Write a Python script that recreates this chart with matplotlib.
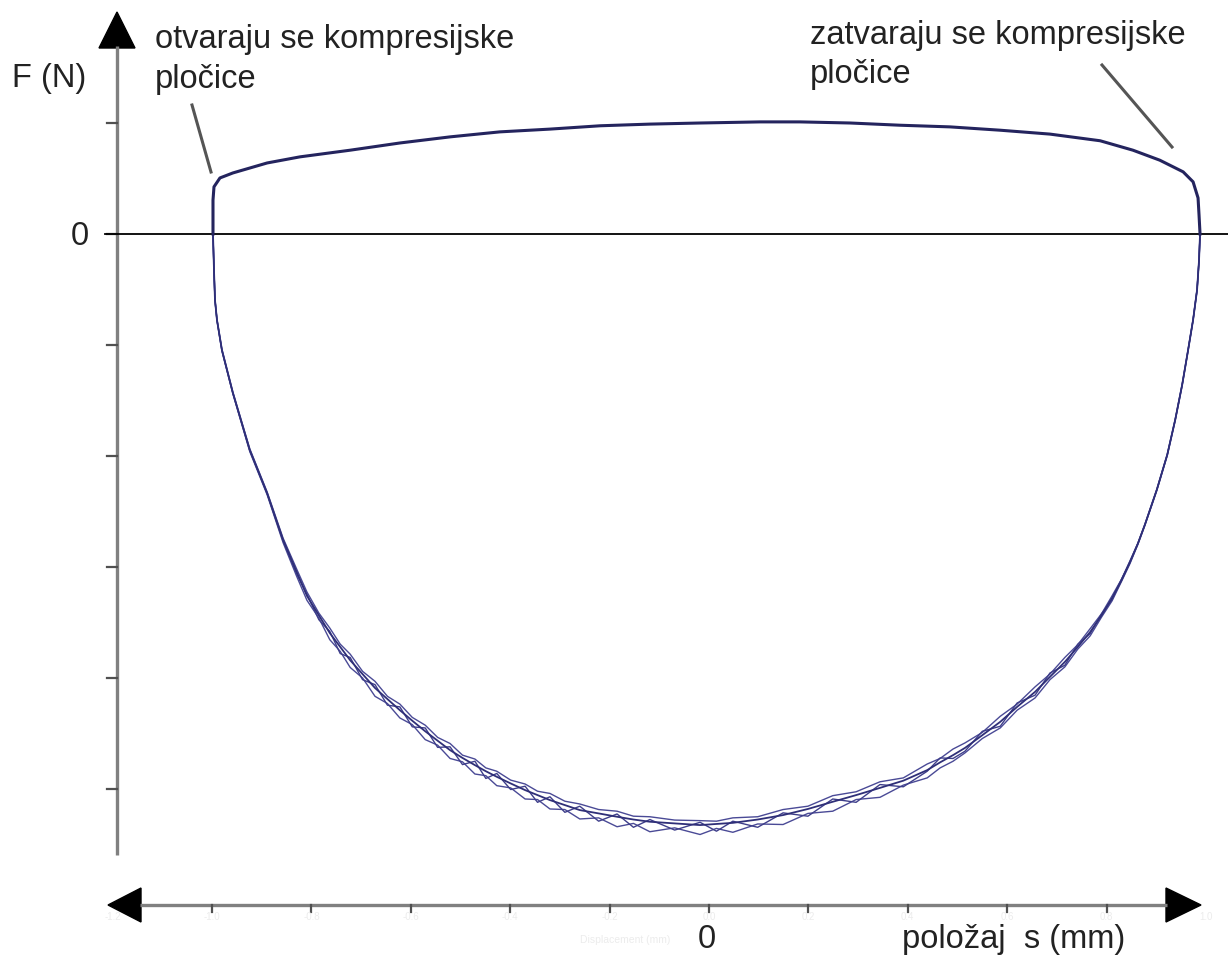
import numpy as np
import matplotlib.pyplot as plt
from matplotlib.patches import Polygon

plt.rcParams['font.family'] = ['Liberation Sans', 'DejaVu Sans']

# upper branch (compression plates open -> close), s in mm, F in N
up_x = [-0.998, -0.998, -0.996, -0.984, -0.958, -0.889, -0.823, -0.722, -0.622, -0.521,
        -0.421, -0.320, -0.219, -0.119, -0.018, 0.103, 0.183, 0.284, 0.384, 0.485,
        0.586, 0.686, 0.787, 0.853, 0.907, 0.954, 0.974, 0.984, 0.986, 0.988]
up_f = [0, 61, 85, 101, 110, 128, 139, 151, 164, 175,
        184, 189, 195, 198, 200, 202, 202, 200, 196, 193,
        187, 180, 168, 151, 133, 112, 94, 65, 34, 0]

# lower branch, several strokes
low_x = [-0.998, -0.996, -0.994, -0.990, -0.980, -0.958, -0.924, -0.889, -0.857, -0.830,
         -0.809, -0.785, -0.763, -0.742, -0.722, -0.697, -0.672, -0.647, -0.622, -0.597,
         -0.571, -0.546, -0.521, -0.496, -0.471, -0.449, -0.427, -0.399, -0.370, -0.345,
         -0.320, -0.290, -0.260, -0.222, -0.185, -0.152, -0.119, -0.069, -0.018, 0.015,
         0.048, 0.098, 0.149, 0.199, 0.249, 0.296, 0.344, 0.391, 0.439, 0.465,
         0.491, 0.515, 0.550, 0.586, 0.620, 0.656, 0.686, 0.716, 0.742, 0.767,
         0.790, 0.811, 0.830, 0.847, 0.863, 0.877, 0.901, 0.922, 0.938, 0.952,
         0.964, 0.974, 0.982, 0.986, 0.988]
low_f1 = [0, -65, -119, -155, -209, -286, -389, -467, -551, -608,
          -652, -687, -719, -744, -768, -793, -818, -838, -858, -877,
          -896, -913, -930, -944, -957, -968, -978, -990, -1002, -1011,
          -1020, -1029, -1038, -1044, -1050, -1055, -1059, -1062, -1065, -1063,
          -1061, -1055, -1047, -1036, -1023, -1011, -998, -985, -966, -952,
          -939, -926, -903, -879, -852, -825, -798, -771, -744, -717,
          -687, -656, -624, -591, -558, -524, -461, -398, -335, -272,
          -209, -155, -101, -47, 0]
low_f2 = [0, -65, -120, -156, -211, -288, -392, -470, -556, -616,
          -660, -692, -731, -752, -781, -800, -833, -846, -872, -884,
          -911, -921, -945, -951, -973, -976, -994, -998, -1018, -1019,
          -1036, -1037, -1054, -1052, -1068, -1062, -1077, -1070, -1082, -1071,
          -1078, -1063, -1064, -1044, -1040, -1019, -1015, -993, -980, -962,
          -950, -935, -909, -890, -858, -836, -803, -780, -748, -724,
          -690, -661, -626, -594, -559, -525, -462, -399, -336, -273,
          -210, -155, -101, -47, 0]
low_f3 = [0, -64, -118, -154, -208, -285, -387, -465, -548, -603,
          -645, -683, -710, -739, -757, -788, -806, -833, -847, -871,
          -885, -907, -918, -939, -946, -962, -968, -984, -991, -1004,
          -1008, -1022, -1027, -1037, -1040, -1049, -1050, -1056, -1057, -1058,
          -1052, -1050, -1037, -1031, -1012, -1005, -987, -980, -955, -945,
          -928, -917, -898, -869, -847, -816, -793, -763, -740, -711,
          -684, -652, -622, -589, -557, -523, -460, -397, -334, -271,
          -208, -154, -100, -47, 0]
low_f4 = [0, -66, -119, -155, -210, -287, -390, -468, -553, -612,
          -649, -695, -716, -756, -763, -803, -812, -849, -852, -888,
          -890, -925, -924, -956, -950, -981, -972, -1001, -995, -1024,
          -1014, -1042, -1031, -1058, -1045, -1069, -1055, -1074, -1060, -1076,
          -1058, -1069, -1043, -1049, -1018, -1024, -992, -996, -968, -944,
          -945, -932, -896, -887, -845, -831, -791, -777, -739, -720,
          -684, -659, -622, -592, -557, -524, -461, -398, -335, -272,
          -209, -155, -101, -47, 0]

x_ticks = [-1.0, -0.8, -0.6, -0.4, -0.2, 0.0, 0.2, 0.4, 0.6, 0.8]
x_tick_labels = ['-1.2', '-1.0', '-0.8', '-0.6', '-0.4', '-0.2', '0.0', '0.2', '0.4', '0.6', '0.8', '1.0']
x_label_pos = [-1.2, -1.0, -0.8, -0.6, -0.4, -0.2, 0.0, 0.2, 0.4, 0.6, 0.8, 1.0]
y_ticks = [200, 0, -200, -400, -600, -800, -1000]


# picture pixels -> data
def dx(p):
    return (p - 709) / 497


def dy(p):
    return (234 - p) * 200 / 111


fig = plt.figure(figsize=(12.28, 9.58), dpi=100)
ax = fig.add_axes([0, 0, 1, 1])
ax.set_xlim(dx(0), dx(1228))
ax.set_ylim(dy(958), dy(0))
ax.axis('off')

# vertical axis with arrow
x_ax = dx(117)
ax.plot([x_ax, x_ax], [dy(46), dy(855)], color='#808080', lw=2.4, solid_capstyle='butt')
ax.add_patch(Polygon([[x_ax, dy(12)], [dx(99), dy(48)], [dx(135), dy(48)]], closed=True,
                     color='black'))
for t in y_ticks:
    ax.plot([dx(107), x_ax], [t, t], color='#505050', lw=1.6)

# horizontal axis with arrows
y_ax = dy(905)
ax.plot([dx(140), dx(1167)], [y_ax, y_ax], color='#808080', lw=2.4, solid_capstyle='butt')
ax.add_patch(Polygon([[dx(108), y_ax], [dx(141), dy(888)], [dx(141), dy(922)]], closed=True,
                     color='black'))
ax.add_patch(Polygon([[dx(1201), y_ax], [dx(1166), dy(888)], [dx(1166), dy(922)]], closed=True,
                     color='black'))
for t in x_ticks:
    ax.plot([t, t], [y_ax, dy(912)], color='#505050', lw=1.6)
# faint original tick labels
for pos, lab in zip(x_label_pos, x_tick_labels):
    ax.text(pos, dy(917), lab, ha='center', va='center', fontsize=7, color='#ececec')
ax.text(dx(625), dy(940), 'Displacement (mm)', ha='center', va='center', fontsize=7.5,
        color='#ececec')

# zero line
ax.plot([dx(105), dx(1228)], [0, 0], color='black', lw=1.3)

# the force loop
ax.plot(low_x, low_f2, color='#4a4a96', lw=1.0)
ax.plot(low_x, low_f3, color='#4a4a96', lw=1.0)
ax.plot(low_x, low_f4, color='#3e3e8a', lw=1.0)
ax.plot(low_x, low_f1, color='#2f2f78', lw=1.3)
ax.plot(up_x, up_f, color='#24245e', lw=2.2)

# leader lines
ax.plot([dx(192), dx(211)], [dy(105), dy(172)], color='#555555', lw=2.2)
ax.plot([dx(1102), dx(1172)], [dy(65), dy(147)], color='#555555', lw=2.2)

# texts
fs = 23.5
tc = '#222222'
ax.text(dx(12), dy(87), 'F (N)', ha='left', va='baseline', fontsize=fs, color=tc)
ax.text(dx(89), dy(245), '0', ha='right', va='baseline', fontsize=fs, color=tc)
ax.text(dx(155), dy(48), 'otvaraju se kompresijske', ha='left', va='baseline',
        fontsize=fs, color=tc)
ax.text(dx(155), dy(88), 'pločice', ha='left', va='baseline', fontsize=fs, color=tc)
ax.text(dx(810), dy(44), 'zatvaraju se kompresijske', ha='left', va='baseline',
        fontsize=fs, color=tc)
ax.text(dx(810), dy(83), 'pločice', ha='left', va='baseline', fontsize=fs, color=tc)
ax.text(dx(707), dy(948), '0', ha='center', va='baseline', fontsize=fs, color=tc)
ax.text(dx(902), dy(948), 'položaj  s (mm)', ha='left', va='baseline', fontsize=fs, color=tc)

fig.savefig('out.png', dpi=100)
